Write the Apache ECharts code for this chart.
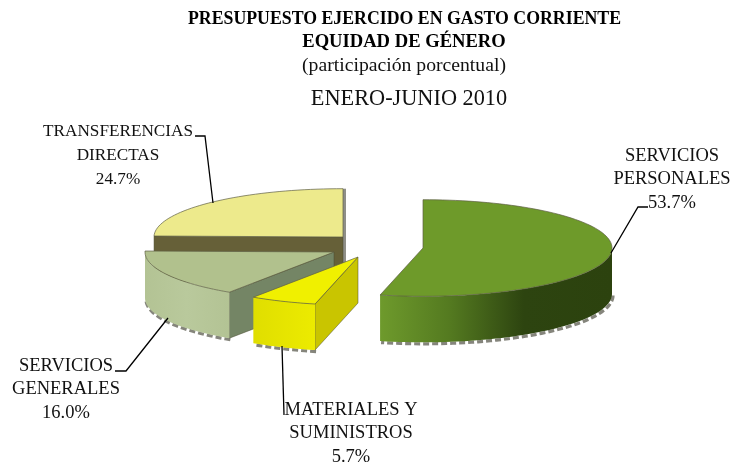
<!DOCTYPE html>
<html><head><meta charset="utf-8">
<style>html,body{margin:0;padding:0;background:#fff}#c{width:740px;height:465px}</style>
<script src="https://cdn.jsdelivr.net/npm/echarts@6/dist/echarts.min.js"></script>
</head><body><div id="c"></div>
<script>
const categories = ['SERVICIOS\nPERSONALES', 'MATERIALES Y\nSUMINISTROS', 'SERVICIOS\nGENERALES', 'TRANSFERENCIAS\nDIRECTAS'];
const shares = [53.7, 5.7, 16.0, 24.7];
const titleLines = ['PRESUPUESTO EJERCIDO EN GASTO CORRIENTE', 'EQUIDAD DE GÉNERO', '(participación porcentual)', 'ENERO-JUNIO 2010'];

const FONT = '"Liberation Serif", serif';
const RX = 189, RY = 48.3, DEPTH = 46;
const centers = [[423, 248], [358, 257], [334, 252], [343, 237]];
const paint = [3, 2, 0, 1];
const skins = [
  {top: '#6E9A2A', cut: '#3d5a16', rim: [[0, '#6E9A2C'], [0.3, '#547A20'], [0.62, '#2D4410'], [1, '#2C420E']]},
  {top: '#F0F000', cut: '#C9C500', rim: [[0, '#E0DE00'], [1, '#ECEB00']]},
  {top: '#B1C18D', cut: '#748565', rim: [[0, '#B3C394'], [0.5, '#B9C99C'], [1, '#B3C394']]},
  {top: '#EDEA8C', cut: '#666038', rim: [[0, '#666038'], [1, '#666038']]}
];
const labelSpots = [[672, 144], [351, 398], [66, 354], [118, 120]];
const labelSizes = [18.5, 18.5, 18.5, 17.2];
const leaders = [
  [[648, 207], [638, 207], [611, 253]],
  [[282, 346], [284, 415]],
  [[115, 371], [126, 371], [168, 318]],
  [[195, 136], [205, 136], [213, 203]]
];

const total = shares.reduce((a, b) => a + b, 0);
const rad = d => d * Math.PI / 180;
let run = 0;
const spans = shares.map(v => { const a = run; run += v / total * 360; return [a, run]; });

function pt(c, deg, z) {
  return [c[0] + RX * Math.sin(rad(deg)), c[1] - RY * Math.cos(rad(deg)) + (z || 0)];
}
function arc(c, a, b, z) {
  const out = [], n = Math.max(2, Math.ceil((b - a) / 2));
  for (let i = 0; i <= n; i++) out.push(pt(c, a + (b - a) * i / n, z));
  return out;
}
function renderSlice(params, api) {
  const i = api.value(0);
  const [a, b] = spans[i], c = centers[i], s = skins[i], o = paint.indexOf(i) * 10;
  const kids = [];
  const ra = Math.max(a, 90), rb = Math.min(b, 270);
  if (rb > ra) {
    const low = arc(c, ra, rb, DEPTH).map(p => [p[0] + 1, p[1] + 1.5]);
    kids.push({type: 'polyline', z2: o, shape: {points: low},
      style: {fill: null, stroke: '#85857c', lineWidth: 3.2, lineDash: [6, 3]}});
  }
  if (Math.abs(b - 360) < 0.01) {
    const q = pt(c, b);
    kids.push({type: 'polyline', z2: o, shape: {points: [[q[0] + 1.5, q[1]], [q[0] + 1.5, q[1] + RY + DEPTH]]},
      style: {fill: null, stroke: '#8f8f88', lineWidth: 3}});
  }
  const cutFace = deg => {
    const q = pt(c, deg);
    kids.push({type: 'polygon', z2: o + 1,
      shape: {points: [c, q, [q[0], q[1] + DEPTH], [c[0], c[1] + DEPTH]]},
      style: {fill: s.cut, stroke: '#4a4a30', lineWidth: 0.5}});
  };
  if (Math.cos(rad(a - 90)) < -0.001) cutFace(a);
  if (Math.cos(rad(b + 90)) < -0.001) cutFace(b);
  if (rb > ra) {
    const up = arc(c, ra, rb, 0), dn = arc(c, ra, rb, DEPTH).reverse();
    kids.push({type: 'polygon', z2: o + 2, shape: {points: up.concat(dn)},
      style: {fill: {type: 'linear', x: 0, y: 0, x2: 1, y2: 0, colorStops: s.rim.map(r => ({offset: r[0], color: r[1]}))}}});
  }
  kids.push({type: 'polygon', z2: o + 3, shape: {points: [c].concat(arc(c, a, b, 0))},
    style: {fill: s.top, stroke: '#5f5f45', lineWidth: 0.7}});
  kids.push({type: 'polyline', z2: 90, shape: {points: leaders[i]},
    style: {fill: null, stroke: '#000', lineWidth: 1.3}});
  kids.push({type: 'text', z2: 95, x: labelSpots[i][0], y: labelSpots[i][1],
    style: {text: categories[i] + '\n' + api.value(1).toFixed(1) + '%', font: labelSizes[i] + 'px ' + FONT,
      lineHeight: 23.7, fill: '#111', align: 'center', verticalAlign: 'top'}});
  return {type: 'group', children: kids};
}

const chart = echarts.init(document.getElementById('c'), null, {renderer: 'canvas'});
chart.setOption({
  backgroundColor: '#fff',
  animation: false,
  title: [
    {text: titleLines[0], left: 399.5, top: 5, textAlign: 'center', textStyle: {fontFamily: FONT, fontSize: 17.8, fontWeight: 'bold', color: '#000'}},
    {text: titleLines[1], left: 399, top: 28, textAlign: 'center', textStyle: {fontFamily: FONT, fontSize: 18.6, fontWeight: 'bold', color: '#000'}},
    {text: titleLines[2], left: 399, top: 51, textAlign: 'center', textStyle: {fontFamily: FONT, fontSize: 19.7, fontWeight: 'normal', color: '#111'}},
    {text: titleLines[3], left: 404, top: 83, textAlign: 'center', textStyle: {fontFamily: FONT, fontSize: 22.3, fontWeight: 'normal', color: '#111'}}
  ],
  series: [{
    type: 'custom',
    coordinateSystem: 'none',
    renderItem: renderSlice,
    data: shares.map((v, i) => [i, v])
  }]
});
</script></body></html>
